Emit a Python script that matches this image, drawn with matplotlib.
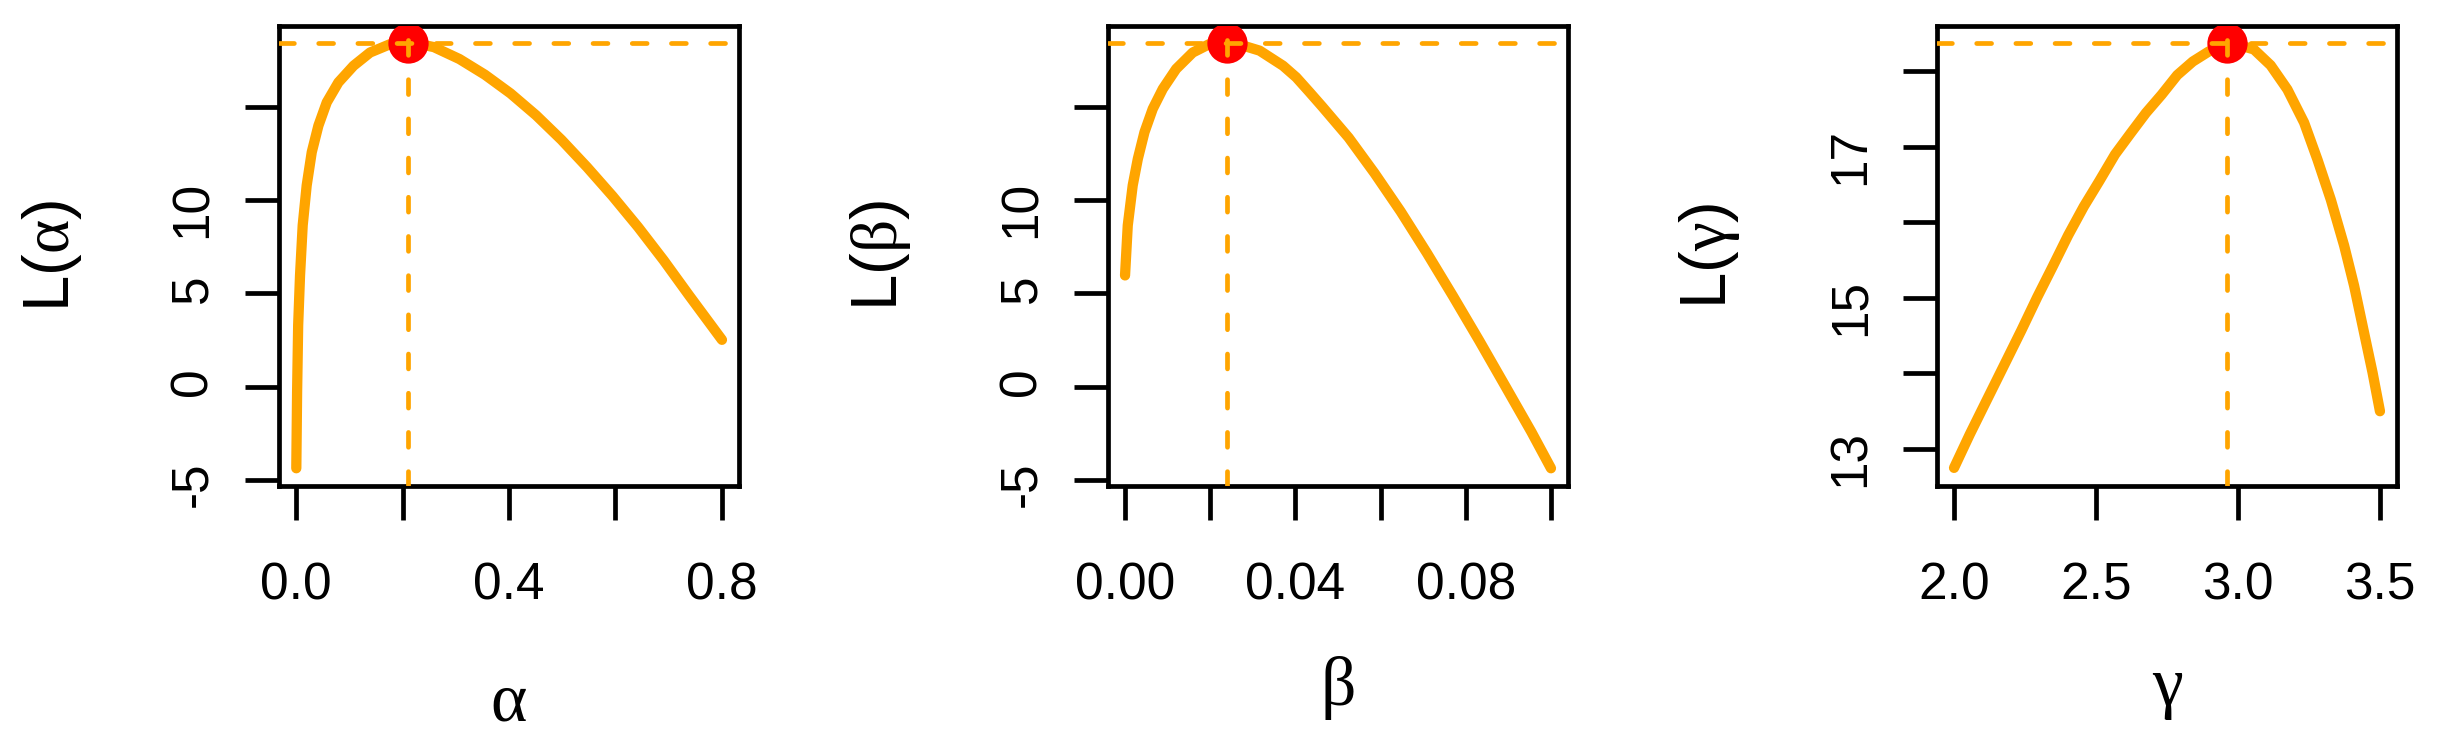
import matplotlib
matplotlib.use("Agg")
import matplotlib.pyplot as plt

plt.rcParams['font.family'] = ['Liberation Sans', 'DejaVu Sans']
plt.rcParams['mathtext.fontset'] = 'custom'
plt.rcParams['mathtext.rm'] = 'Liberation Serif'
plt.rcParams['mathtext.it'] = 'Liberation Serif:italic'
plt.rcParams['mathtext.bf'] = 'Liberation Serif:bold'

# profile log-likelihood, alpha
alpha = [0.0005, 0.002, 0.004, 0.0075, 0.0125, 0.020, 0.0295, 0.042, 0.0577,
         0.0796, 0.108, 0.139, 0.177, 0.2096, 0.230, 0.2589, 0.3069, 0.3548,
         0.4028, 0.4508, 0.4986, 0.5466, 0.5945, 0.6425, 0.6905, 0.7385, 0.800]
L_alpha = [-4.37, -0.28, 3.29, 5.96, 8.64, 10.78, 12.56, 13.98, 15.23,
           16.30, 17.19, 17.90, 18.35, 18.42, 18.36, 18.19, 17.55, 16.71,
           15.71, 14.54, 13.22, 11.76, 10.21, 8.55, 6.77, 4.88, 2.51]

# profile log-likelihood, beta
beta = [0.0, 0.00064, 0.0018, 0.0030, 0.00456, 0.0065, 0.00886, 0.0120,
        0.0159, 0.0198, 0.0240, 0.0277, 0.0316, 0.0371, 0.0402, 0.0433,
        0.0463, 0.0525, 0.0586, 0.0647, 0.0709, 0.0770, 0.0832, 0.0893,
        0.0954, 0.1000]
L_beta = [5.96, 8.64, 10.78, 12.20, 13.63, 14.88, 15.95, 17.02,
          17.90, 18.35, 18.42, 18.27, 18.00, 17.19, 16.57, 15.78,
          15.00, 13.34, 11.43, 9.39, 7.15, 4.85, 2.45, 0.02,
          -2.42, -4.37]

# profile log-likelihood, gamma
gamma = [2.000, 2.055, 2.109, 2.183, 2.237, 2.293, 2.348, 2.402, 2.457,
         2.512, 2.567, 2.622, 2.676, 2.731, 2.786, 2.841, 2.896, 2.960,
         3.010, 3.056, 3.115, 3.174, 3.233, 3.280, 3.327, 3.374, 3.409,
         3.444, 3.474, 3.500]
L_gamma = [12.75, 13.19, 13.60, 14.16, 14.57, 15.01, 15.42, 15.83, 16.21,
           16.55, 16.90, 17.18, 17.45, 17.69, 17.95, 18.13, 18.26, 18.37,
           18.34, 18.29, 18.08, 17.76, 17.32, 16.83, 16.30, 15.69, 15.16,
           14.54, 14.01, 13.50]

# maximum likelihood estimates
mle_x = [0.2096, 0.0240, 2.960]
mle_y = [18.42, 18.42, 18.37]

names = ['alpha', 'beta', 'gamma']
greek = ['α', 'β', 'γ']

xticks = [[0.0, 0.2, 0.4, 0.6, 0.8],
          [0.0, 0.02, 0.04, 0.06, 0.08, 0.10],
          [2.0, 2.5, 3.0, 3.5]]
xticklabels = [['0.0', '', '0.4', '', '0.8'],
               ['0.00', '', '0.04', '', '0.08', ''],
               ['2.0', '2.5', '3.0', '3.5']]
yticks = [[-5, 0, 5, 10, 15],
          [-5, 0, 5, 10, 15],
          [13, 14, 15, 16, 17, 18]]
yticklabels = [['-5', '0', '5', '10', ''],
               ['-5', '0', '5', '10', ''],
               ['13', '', '15', '', '17', '']]

xs = [alpha, beta, gamma]
ys = [L_alpha, L_beta, L_gamma]

# layout (pixels in a 2437x745 figure)
W, H = 2437, 745
lefts = [279, 1108, 1937]
xlims = [(-0.032, 0.832), (-0.004, 0.104), (1.94, 3.56)]
ylims = [(-5.32, 19.32), (-5.32, 19.32), (12.51, 18.60)]
xlab_y = [-0.51, -0.475, -0.475]

fig = plt.figure(figsize=(W / 100, H / 100), dpi=100)

for i in range(3):
    ax = fig.add_axes([lefts[i] / W, 1 - 486 / H, 460 / W, 460 / H])
    ax.plot(xs[i], ys[i], color='orange', lw=7.4, solid_capstyle='round',
            solid_joinstyle='round', zorder=2)
    ax.plot(mle_x[i], mle_y[i], 'o', color='red', ms=29, mec='none', zorder=3)
    ax.axhline(mle_y[i], color='orange', lw=3.4, ls=(0, (3.15, 5.15)),
               dash_capstyle='round', zorder=4)
    ax.axvline(mle_x[i], color='orange', lw=3.4, ls=(0, (3.15, 5.15)),
               dash_capstyle='round', zorder=4)

    ax.set_xlim(xlims[i])
    ax.set_ylim(ylims[i])
    ax.set_xticks(xticks[i])
    ax.set_xticklabels(xticklabels[i])
    ax.set_yticks(yticks[i])
    ax.set_yticklabels(yticklabels[i])
    ax.tick_params(direction='out', length=24.3, width=3.4, labelsize=37)
    ax.tick_params(axis='x', pad=30)
    ax.tick_params(axis='y', pad=20, labelrotation=90)
    for s in ax.spines.values():
        s.set_linewidth(3.4)

    ax.text(-0.4935, 0.5, r'L($\mathrm{\%s}$)' % names[i], transform=ax.transAxes,
            rotation=90, ha='center', va='center', fontsize=47)
    ax.text(0.5, xlab_y[i], greek[i], transform=ax.transAxes, ha='center',
            va='baseline', fontsize=50, family=['Liberation Serif', 'DejaVu Serif'])

fig.savefig('out.png', dpi=100)
